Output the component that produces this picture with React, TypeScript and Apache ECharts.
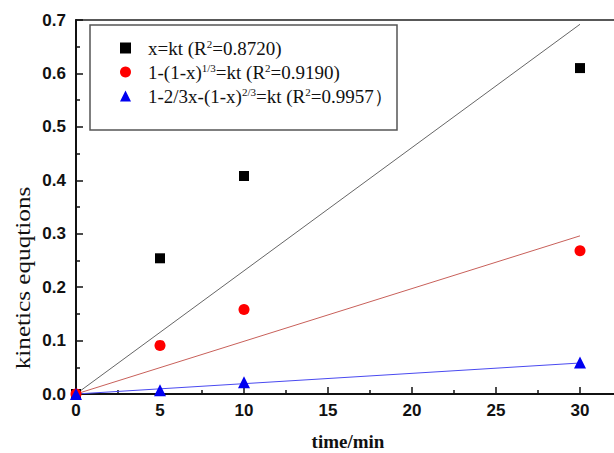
import React, { useEffect, useRef } from "react";
import * as echarts from "echarts";

const times = [0, 5, 10, 30];
const linearVals = [0, 0.254, 0.408, 0.61];
const cubeRootVals = [0, 0.091, 0.158, 0.268];
const ginstlingVals = [0, 0.007, 0.022, 0.059];

const fitEndTime = 30;
const linearFit = [0, 0.692];
const cubeRootFit = [0, 0.296];
const ginstlingFit = [0, 0.058];

const seriesNames = ["s1", "s2", "s3"];
const legendTexts: Record<string, string> = {
  s1: "x=kt (R{sup|2}=0.8720)",
  s2: "1-(1-x){sup|1/3}=kt (R{sup|2}=0.9190)",
  s3: "1-2/3x-(1-x){sup|2/3}=kt (R{sup|2}=0.9957\uFF09",
};

const xTicks = { min: 0, max: 35, interval: 5 };
const yTicks = { min: 0, max: 0.7, interval: 0.1 };

const xTitle = "time/min";
const yTitle = "kinetics equqtions";

export default function App() {
  const ref = useRef<HTMLDivElement>(null);
  useEffect(() => {
    const chart = echarts.init(ref.current!, null, { renderer: "svg" });
    const pair = (vals: number[]) => times.map((t, i) => [t, vals[i]]);
    const fit = (f: number[]) => [[0, f[0]], [fitEndTime, f[1]]];
    const serif = "Liberation Serif";
    const sans = "Liberation Sans";
    chart.setOption({
      animation: false,
      backgroundColor: "#fff",
      grid: {
        left: 76,
        top: 20,
        bottom: 59,
        width: 588,
        show: true,
        borderColor: "#222",
        borderWidth: 1.5,
        containLabel: false,
        outerBoundsMode: "none",
      },
      xAxis: {
        type: "value",
        min: xTicks.min,
        max: xTicks.max,
        interval: xTicks.interval,
        axisLine: { show: true, onZero: false, lineStyle: { color: "#111", width: 2 } },
        axisTick: { show: true, inside: true, length: 7, lineStyle: { color: "#111", width: 1.5 } },
        minorTick: { show: true, splitNumber: 2, length: 4, lineStyle: { color: "#111", width: 1.5 } },
        splitLine: { show: false },
        axisLabel: {
          color: "#111",
          fontFamily: sans,
          fontWeight: "bold",
          fontSize: 17,
          margin: 8,
          showMaxLabel: false,
        },
      },
      yAxis: {
        type: "value",
        min: yTicks.min,
        max: yTicks.max,
        interval: yTicks.interval,
        axisLine: { show: true, onZero: false, lineStyle: { color: "#111", width: 2 } },
        axisTick: { show: true, inside: true, length: 7, lineStyle: { color: "#111", width: 1.5 } },
        minorTick: { show: true, splitNumber: 2, length: 4, lineStyle: { color: "#111", width: 1.5 } },
        splitLine: { show: false },
        axisLabel: {
          color: "#111",
          fontFamily: sans,
          fontWeight: "bold",
          fontSize: 17,
          margin: 10,
          formatter: (v: number) => v.toFixed(1),
        },
      },
      legend: {
        orient: "vertical",
        left: 115,
        top: 33,
        z: 10,
        itemGap: 4,
        itemWidth: 11,
        itemHeight: 11,
        data: seriesNames,
        formatter: (name: string) => legendTexts[name],
        textStyle: {
          fontFamily: serif,
          fontSize: 19,
          color: "#111",
          padding: [0, 0, 0, 12],
          lineHeight: 20,
          rich: {
            sup: {
              fontFamily: serif,
              fontSize: 11,
              color: "#111",
              verticalAlign: "top",
              lineHeight: 11,
              padding: [0, 0, 8, 0],
            },
          },
        },
      },
      graphic: [
        {
          type: "rect",
          z: 5,
          shape: { x: 90, y: 25, width: 307, height: 105 },
          style: { fill: "#fff", stroke: "#555", lineWidth: 1.5 },
        },
        {
          type: "text",
          x: 23,
          y: 278,
          rotation: Math.PI / 2,
          scaleX: 1.2,
          style: {
            text: yTitle,
            fontFamily: serif,
            fontSize: 21,
            fill: "#111",
            align: "center",
            verticalAlign: "middle",
          },
        },
        {
          type: "text",
          x: 348,
          y: 441,
          style: {
            text: xTitle,
            fontFamily: serif,
            fontWeight: "bold",
            fontSize: 19,
            fill: "#111",
            align: "center",
            verticalAlign: "middle",
          },
        },
      ],
      series: [
        {
          name: "fit1",
          type: "line",
          data: fit(linearFit),
          symbol: "none",
          lineStyle: { color: "#666", width: 1 },
          z: 2,
        },
        {
          name: "fit2",
          type: "line",
          data: fit(cubeRootFit),
          symbol: "none",
          lineStyle: { color: "#c8605a", width: 1 },
          z: 2,
        },
        {
          name: "fit3",
          type: "line",
          data: fit(ginstlingFit),
          symbol: "none",
          lineStyle: { color: "#4a4af0", width: 1 },
          z: 2,
        },
        {
          name: "s1",
          type: "scatter",
          data: pair(linearVals),
          symbol: "rect",
          symbolSize: 10,
          itemStyle: { color: "#000", opacity: 1 },
          z: 3,
        },
        {
          name: "s2",
          type: "scatter",
          data: pair(cubeRootVals),
          symbol: "circle",
          symbolSize: 11,
          itemStyle: { color: "#f00", opacity: 1 },
          z: 3,
        },
        {
          name: "s3",
          type: "scatter",
          data: pair(ginstlingVals),
          symbol: "triangle",
          symbolSize: 12,
          itemStyle: { color: "#0000f0", opacity: 1 },
          z: 3,
        },
      ],
    });
    return () => chart.dispose();
  }, []);
  return (
    <div
      ref={ref}
      style={{ position: "absolute", left: 0, top: 0, width: 614, height: 453 }}
    />
  );
}
